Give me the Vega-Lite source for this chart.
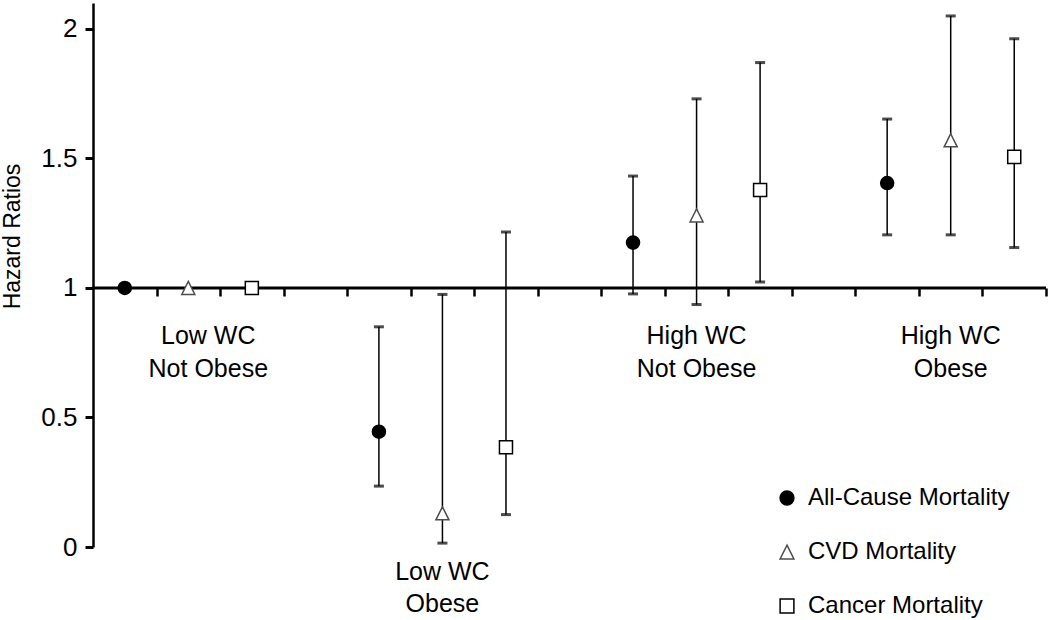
{
  "$schema": "https://vega.github.io/schema/vega-lite/v6.json",
  "width": 953,
  "height": 544,
  "autosize": {"type": "none"},
  "padding": {"left": 93, "top": 3, "right": 4, "bottom": 73},
  "background": "white",
  "config": {
    "view": {"stroke": null},
    "font": "Liberation Sans",
    "axis": {"labelColor": "black", "titleColor": "black", "domainColor": "black", "tickColor": "black"}
  },
  "datasets": {
    "hr": [
      {"group": "Low WC Not Obese", "series": "All-Cause Mortality", "hr": 1.0, "lo": null, "hi": null},
      {"group": "Low WC Not Obese", "series": "CVD Mortality", "hr": 1.0, "lo": null, "hi": null},
      {"group": "Low WC Not Obese", "series": "Cancer Mortality", "hr": 1.0, "lo": null, "hi": null},
      {"group": "Low WC Obese", "series": "All-Cause Mortality", "hr": 0.445, "lo": 0.235, "hi": 0.85},
      {"group": "Low WC Obese", "series": "CVD Mortality", "hr": 0.13, "lo": 0.015, "hi": 0.975},
      {"group": "Low WC Obese", "series": "Cancer Mortality", "hr": 0.385, "lo": 0.125, "hi": 1.216},
      {"group": "High WC Not Obese", "series": "All-Cause Mortality", "hr": 1.175, "lo": 0.977, "hi": 1.432},
      {"group": "High WC Not Obese", "series": "CVD Mortality", "hr": 1.28, "lo": 0.936, "hi": 1.73},
      {"group": "High WC Not Obese", "series": "Cancer Mortality", "hr": 1.378, "lo": 1.023, "hi": 1.87},
      {"group": "High WC Obese", "series": "All-Cause Mortality", "hr": 1.405, "lo": 1.205, "hi": 1.652},
      {"group": "High WC Obese", "series": "CVD Mortality", "hr": 1.57, "lo": 1.205, "hi": 2.05},
      {"group": "High WC Obese", "series": "Cancer Mortality", "hr": 1.506, "lo": 1.156, "hi": 1.962}
    ],
    "labels": [
      {"group": "Low WC Not Obese", "lines": ["Low WC", "Not Obese"]},
      {"group": "Low WC Obese", "lines": ["Low WC", "Obese"]},
      {"group": "High WC Not Obese", "lines": ["High WC", "Not Obese"]},
      {"group": "High WC Obese", "lines": ["High WC", "Obese"]}
    ]
  },
  "resolve": {"scale": {"x": "independent"}, "axis": {"x": "independent"}},
  "layer": [
    {
      "data": {"values": [{"ref": 1}]},
      "mark": {"type": "rule", "color": "black", "strokeWidth": 3},
      "encoding": {
        "x": {"datum": 0, "type": "quantitative", "scale": {"domain": [0, 15], "nice": false, "zero": false},
          "axis": {"values": [1,2,3,4,5,6,7,8,9,10,11,12,13,14,15], "labels": false, "domain": false, "title": null, "grid": false, "tickSize": 8, "tickWidth": 2.5, "offset": -259}},
        "x2": {"datum": 15},
        "y": {"field": "ref", "type": "quantitative", "scale": {"domain": [0, 2.1], "nice": false, "zero": false},
          "axis": {"values": [0, 0.5, 1, 1.5, 2], "format": "~g", "grid": false, "labelFontSize": 26, "labelPadding": 8, "tickSize": 8, "tickWidth": 3, "domainWidth": 2.5, "title": "Hazard Ratios", "titleFontSize": 23, "titleFontWeight": "normal", "titleX": -81, "titleY": 233, "titleAngle": -90, "titleBaseline": "middle", "titleAlign": "center"}}
      }
    },
    {
      "layer": [
        {
          "data": {"name": "hr"},
          "transform": [{"filter": "datum.lo != null"}],
          "mark": {"type": "rule", "color": "black", "strokeWidth": 1.5},
          "encoding": {
            "x": {"field": "group", "type": "nominal", "scale": {"domain": ["Low WC Not Obese", "Low WC Obese", "High WC Not Obese", "High WC Obese"], "paddingInner": 0.25, "paddingOuter": 0}, "axis": null},
            "xOffset": {"field": "series", "type": "nominal", "scale": {"domain": ["All-Cause Mortality", "CVD Mortality", "Cancer Mortality"], "paddingInner": 0, "paddingOuter": 0}},
            "y": {"field": "lo", "type": "quantitative"},
            "y2": {"field": "hi"}
          }
        },
        {
          "data": {"name": "hr"},
          "transform": [{"filter": "datum.lo != null"}],
          "mark": {"type": "tick", "color": "black", "size": 10, "thickness": 3},
          "encoding": {
            "x": {"field": "group", "type": "nominal", "scale": {"domain": ["Low WC Not Obese", "Low WC Obese", "High WC Not Obese", "High WC Obese"], "paddingInner": 0.25, "paddingOuter": 0}, "axis": null},
            "xOffset": {"field": "series", "type": "nominal", "scale": {"domain": ["All-Cause Mortality", "CVD Mortality", "Cancer Mortality"], "paddingInner": 0, "paddingOuter": 0}},
            "y": {"field": "lo", "type": "quantitative"}
          }
        },
        {
          "data": {"name": "hr"},
          "transform": [{"filter": "datum.hi != null"}],
          "mark": {"type": "tick", "color": "black", "size": 10, "thickness": 3},
          "encoding": {
            "x": {"field": "group", "type": "nominal", "scale": {"domain": ["Low WC Not Obese", "Low WC Obese", "High WC Not Obese", "High WC Obese"], "paddingInner": 0.25, "paddingOuter": 0}, "axis": null},
            "xOffset": {"field": "series", "type": "nominal", "scale": {"domain": ["All-Cause Mortality", "CVD Mortality", "Cancer Mortality"], "paddingInner": 0, "paddingOuter": 0}},
            "y": {"field": "hi", "type": "quantitative"}
          }
        },
        {
          "data": {"name": "hr"},
          "mark": {"type": "point", "size": 170, "strokeWidth": 1.5, "opacity": 1},
          "encoding": {
            "x": {"field": "group", "type": "nominal", "scale": {"domain": ["Low WC Not Obese", "Low WC Obese", "High WC Not Obese", "High WC Obese"], "paddingInner": 0.25, "paddingOuter": 0}, "axis": null},
            "xOffset": {"field": "series", "type": "nominal", "scale": {"domain": ["All-Cause Mortality", "CVD Mortality", "Cancer Mortality"], "paddingInner": 0, "paddingOuter": 0}},
            "y": {"field": "hr", "type": "quantitative"},
            "shape": {"field": "series", "type": "nominal", "scale": {"domain": ["All-Cause Mortality", "CVD Mortality", "Cancer Mortality"], "range": ["circle", "M0,-1L1,1L-1,1Z", "square"]},
              "legend": {"title": null, "orient": "none", "legendX": 682, "legendY": 483, "padding": 0, "rowPadding": 30, "labelFontSize": 24, "labelColor": "black", "labelOffset": 9, "symbolSize": 190, "symbolStrokeWidth": 1.5, "labelLimit": 400}},
            "fill": {"field": "series", "type": "nominal", "scale": {"domain": ["All-Cause Mortality", "CVD Mortality", "Cancer Mortality"], "range": ["black", "white", "white"]}, "legend": {"title": null, "orient": "none", "legendX": 682, "legendY": 483, "padding": 0, "rowPadding": 30, "labelFontSize": 24, "labelColor": "black", "labelOffset": 9, "symbolSize": 190, "symbolStrokeWidth": 1.5, "labelLimit": 400}},
            "stroke": {"field": "series", "type": "nominal", "scale": {"domain": ["All-Cause Mortality", "CVD Mortality", "Cancer Mortality"], "range": ["black", "#4d4d4d", "black"]}, "legend": {"title": null, "orient": "none", "legendX": 682, "legendY": 483, "padding": 0, "rowPadding": 30, "labelFontSize": 24, "labelColor": "black", "labelOffset": 9, "symbolSize": 190, "symbolStrokeWidth": 1.5, "labelLimit": 400}}
          }
        },
        {
          "data": {"name": "labels"},
          "transform": [{"filter": "datum.group == 'Low WC Not Obese'"}],
          "mark": {"type": "text", "fontSize": 25, "color": "black", "align": "center", "baseline": "alphabetic", "lineHeight": 33, "dx": 20},
          "encoding": {
            "x": {"field": "group", "type": "nominal", "scale": {"domain": ["Low WC Not Obese", "Low WC Obese", "High WC Not Obese", "High WC Obese"], "paddingInner": 0.25, "paddingOuter": 0}, "axis": null},
            "y": {"datum": 0.784},
            "text": {"field": "lines"}
          }
        },
        {
          "data": {"name": "labels"},
          "transform": [{"filter": "datum.group == 'High WC Not Obese' || datum.group == 'High WC Obese'"}],
          "mark": {"type": "text", "fontSize": 25, "color": "black", "align": "center", "baseline": "alphabetic", "lineHeight": 33},
          "encoding": {
            "x": {"field": "group", "type": "nominal", "scale": {"domain": ["Low WC Not Obese", "Low WC Obese", "High WC Not Obese", "High WC Obese"], "paddingInner": 0.25, "paddingOuter": 0}, "axis": null},
            "y": {"datum": 0.784},
            "text": {"field": "lines"}
          }
        },
        {
          "data": {"name": "labels"},
          "transform": [{"filter": "datum.group == 'Low WC Obese'"}],
          "mark": {"type": "text", "fontSize": 25, "color": "black", "align": "center", "baseline": "alphabetic", "lineHeight": 32},
          "encoding": {
            "x": {"field": "group", "type": "nominal", "scale": {"domain": ["Low WC Not Obese", "Low WC Obese", "High WC Not Obese", "High WC Obese"], "paddingInner": 0.25, "paddingOuter": 0}, "axis": null},
            "y": {"datum": -0.127},
            "text": {"field": "lines"}
          }
        }
      ]
    }
  ]
}
